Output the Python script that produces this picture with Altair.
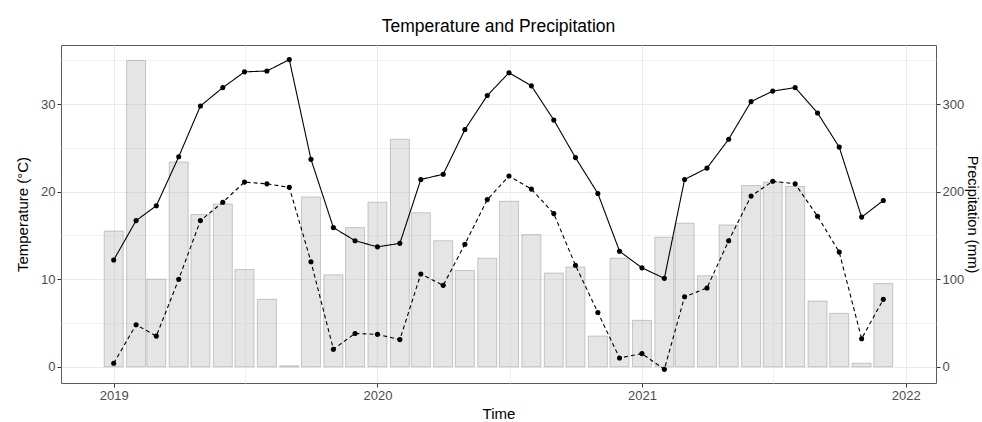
import altair as alt
import pandas as pd

dates = [
    "2019-01-01", "2019-02-01", "2019-03-01", "2019-04-01", "2019-05-01", "2019-06-01",
    "2019-07-01", "2019-08-01", "2019-09-01", "2019-10-01", "2019-11-01", "2019-12-01",
    "2020-01-01", "2020-02-01", "2020-03-01", "2020-04-01", "2020-05-01", "2020-06-01",
    "2020-07-01", "2020-08-01", "2020-09-01", "2020-10-01", "2020-11-01", "2020-12-01",
    "2021-01-01", "2021-02-01", "2021-03-01", "2021-04-01", "2021-05-01", "2021-06-01",
    "2021-07-01", "2021-08-01", "2021-09-01", "2021-10-01", "2021-11-01", "2021-12-01",
]
tmax = [12.2, 16.7, 18.4, 24.0, 29.8, 31.9, 33.7, 33.8, 35.1, 23.7, 15.9, 14.4,
        13.7, 14.1, 21.4, 22.0, 27.1, 31.0, 33.6, 32.1, 28.2, 23.9, 19.8, 13.2,
        11.3, 10.1, 21.4, 22.7, 26.0, 30.3, 31.5, 31.9, 29.0, 25.1, 17.1, 19.0]
tmin = [0.4, 4.8, 3.5, 10.0, 16.7, 18.8, 21.1, 20.9, 20.5, 12.0, 2.0, 3.8,
        3.7, 3.1, 10.6, 9.3, 14.0, 19.1, 21.8, 20.3, 17.5, 11.6, 6.2, 1.0,
        1.5, -0.3, 8.0, 9.0, 14.4, 19.5, 21.2, 20.9, 17.2, 13.1, 3.2, 7.7]
precip = [155, 350, 100, 234, 174, 186, 111, 77, 1, 194, 105, 159,
          188, 260, 176, 144, 110, 124, 189, 151, 107, 114, 35, 124,
          53, 148, 164, 104, 162, 207, 211, 206, 75, 61, 4, 95]

temp_ticks = [0, 5, 10, 15, 20, 25, 30, 35]
precip_ticks = [0, 100, 200, 300]
year_ticks = [(2019, 1, 1), (2019, 7, 2), (2020, 1, 1), (2020, 7, 2),
              (2021, 1, 1), (2021, 7, 2), (2022, 1, 1)]

bar_df = pd.DataFrame({"date": dates, "precip": precip})
line_df = pd.concat([
    pd.DataFrame({"date": dates, "temp": tmax, "series": "max"}),
    pd.DataFrame({"date": dates, "temp": tmin, "series": "min"}),
])

FONT = "Liberation Sans"

x_enc = alt.X(
    "date:T",
    title="Time",
    scale=alt.Scale(
        type="utc",
        domain=[alt.DateTime(year=2018, month=10, date=27, utc=True),
                alt.DateTime(year=2022, month=2, date=5, utc=True)],
        nice=False,
    ),
    axis=alt.Axis(
        values=[alt.DateTime(year=y, month=m, date=d, utc=True) for y, m, d in year_ticks],
        labelExpr="utcmonth(datum.value) == 0 ? utcFormat(datum.value, '%Y') : ''",
        tickOpacity={"condition": {"test": "utcmonth(datum.value) == 0", "value": 1}, "value": 0},
        gridWidth={"condition": {"test": "utcmonth(datum.value) == 0", "value": 1.1}, "value": 0.7},
        grid=True,
        titlePadding=4,
    ),
)

y_temp = alt.Y(
    "temp:Q",
    title="Temperature (°C)",
    scale=alt.Scale(domain=[-1.86, 36.77], nice=False, zero=False),
    axis=alt.Axis(
        orient="left",
        values=temp_ticks,
        labelExpr="datum.value % 10 == 0 ? datum.label : ''",
        tickOpacity={"condition": {"test": "datum.value % 10 == 0", "value": 1}, "value": 0},
        gridWidth={"condition": {"test": "datum.value % 10 == 0", "value": 1.1}, "value": 0.7},
        grid=True,
        titlePadding=10,
    ),
)

bars = alt.Chart(bar_df).mark_bar(
    size=19, fill="#bebebe", fillOpacity=0.4,
    stroke="#8a8a8a", strokeOpacity=0.55, strokeWidth=0.8,
).encode(
    x=x_enc,
    y=alt.Y(
        "precip:Q",
        title="Precipitation (mm)",
        scale=alt.Scale(domain=[-18.6, 367.7], nice=False, zero=False),
        axis=alt.Axis(orient="right", values=precip_ticks, grid=False,
                      titlePadding=1, titleFontSize=14.5),
    ),
)

lines = alt.Chart(line_df).mark_line(color="black", strokeWidth=1.1).encode(
    x=x_enc,
    y=y_temp,
    strokeDash=alt.StrokeDash(
        "series:N",
        scale=alt.Scale(domain=["max", "min"], range=[[1, 0], [4, 3]]),
        legend=None,
    ),
)

points = alt.Chart(line_df).mark_circle(color="black", size=26, opacity=1).encode(
    x=x_enc,
    y=y_temp,
    detail="series:N",
)

chart = alt.layer(bars, alt.layer(lines, points)).resolve_scale(
    y="independent"
).properties(
    width=875,
    height=338,
    padding={"left": 61, "top": 45, "right": 46, "bottom": 39},
    autosize=alt.AutoSizeParams(type="none"),
    title=alt.TitleParams(
        "Temperature and Precipitation",
        fontSize=17.5, font=FONT, fontWeight="normal", color="black",
        anchor="middle", offset=10,
    ),
).configure_view(
    stroke="#5a5a5a", strokeWidth=1,
).configure_axis(
    domain=False,
    gridColor="#ebebeb",
    tickColor="#333333",
    tickSize=4,
    tickWidth=1,
    labelFont=FONT,
    labelFontSize=13,
    labelColor="#4d4d4d",
    labelPadding=2,
    titleFont=FONT,
    titleFontSize=15,
    titleFontWeight="normal",
    titleColor="black",
)

chart.save("out.html", embed_options={"renderer": "svg", "actions": False})
